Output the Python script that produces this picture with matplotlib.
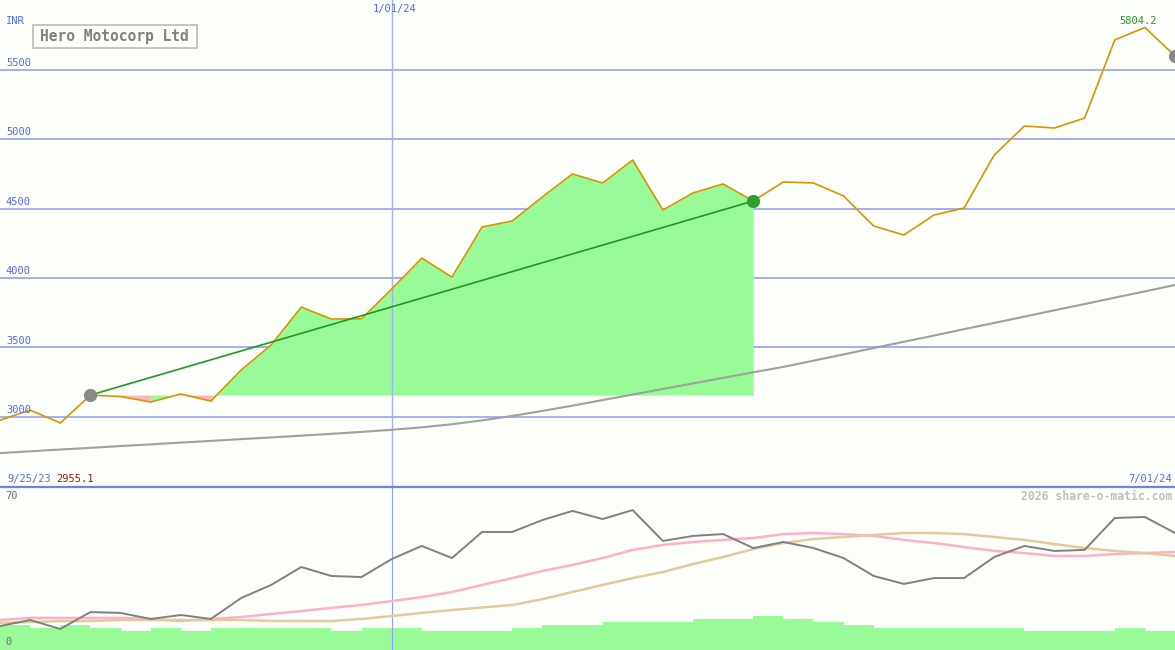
import matplotlib
matplotlib.use('Agg')
import matplotlib.pyplot as plt
import numpy as np
from matplotlib.patches import Rectangle

W, H = 1175, 650
MONO = 'DejaVu Sans Mono'

BG = '#FCFEFA'
GRID = '#A4B0F0'
BLUE = '#5566EE'
ORANGE = '#D99400'
GREEN = '#229922'
FILL_GREEN = '#98FB98'
FILL_PINK = '#FFB6C1'

# weekly closes, 9/25/23 .. 7/01/24
price = [2975, 3048, 2955.1, 3156, 3146, 3106, 3164, 3113, 3336, 3517,
         3790, 3704, 3706, 3920, 4143, 4006, 4367, 4410, 4583, 4749,
         4684, 4849, 4489, 4612, 4677, 4554, 4691, 4684, 4590, 4374,
         4309, 4453, 4504, 4885, 5094, 5080, 5152, 5714, 5804.2, 5599]
# long moving average (gray)
long_ma = [2738, 2751, 2764, 2776, 2789, 2801, 2814, 2826, 2839, 2851,
           2864, 2877, 2891, 2906, 2924, 2946, 2974, 3006, 3042, 3080,
           3120, 3160, 3200, 3240, 3280, 3320, 3359, 3404, 3449, 3495,
           3540, 3585, 3631, 3676, 3721, 3767, 3812, 3858, 3903, 3949]
price_levels = [3000, 3500, 4000, 4500, 5000, 5500]

# lower panel: oscillator and its two averages
osc = [11.0, 13.9, 9.6, 17.7, 17.3, 14.4, 16.3, 14.4, 24.4, 30.7,
       39.3, 35.0, 34.5, 43.1, 49.4, 43.6, 56.1, 56.1, 61.8, 66.2,
       62.3, 66.6, 51.8, 54.2, 55.1, 48.4, 51.3, 48.4, 43.6, 35.0,
       31.2, 34.0, 34.0, 44.1, 49.4, 47.0, 47.5, 62.8, 63.3, 55.6]
osc_fast = [13.9, 14.9, 14.9, 14.9, 14.9, 14.4, 13.4, 14.4, 15.3, 16.8,
            18.2, 19.7, 21.1, 23.0, 24.9, 27.3, 30.7, 34.0, 37.4, 40.3,
            43.6, 47.5, 49.9, 51.3, 52.3, 53.2, 55.1, 55.6, 55.1, 54.2,
            52.3, 50.8, 48.9, 47.0, 46.0, 44.6, 44.6, 45.5, 46.0, 46.5]
osc_slow = [12.5, 12.9, 13.4, 13.4, 13.9, 13.9, 13.9, 13.9, 13.9, 13.4,
            13.4, 13.4, 14.4, 15.8, 17.3, 18.7, 19.9, 21.1, 23.9, 27.3,
            30.7, 34.0, 36.9, 40.7, 44.1, 47.9, 50.8, 52.7, 53.7, 54.7,
            55.6, 55.6, 55.1, 53.7, 52.3, 50.3, 48.4, 47.0, 46.0, 44.6]
# volume (one bar per week interval)
volume = [2.5, 2.2, 2.5, 2.2, 1.9, 2.2, 1.9, 2.2, 2.2, 2.2,
          2.2, 1.9, 2.2, 2.2, 1.9, 1.9, 1.9, 2.2, 2.5, 2.5,
          2.8, 2.8, 2.8, 3.1, 3.1, 3.4, 3.1, 2.8, 2.5, 2.2,
          2.2, 2.2, 2.2, 2.2, 1.9, 1.9, 1.9, 2.2, 1.9]

trend_from, trend_to = 3, 25
jan_idx = 13


def fig_xy(px, py):
    return px / W, 1 - py / H


def draw_price(ax):
    x = np.arange(len(price))
    p = np.array(price)
    for lvl in price_levels:
        ax.axhline(lvl, color=GRID, lw=1.4, zorder=1)
        ax.text(0.005, lvl + 12, str(lvl), transform=ax.get_yaxis_transform(),
                color=BLUE, fontsize=7.5, family=MONO, va='bottom', zorder=6)

    # area vs. the start level; each week coloured by where it closes,
    # runs of the same colour merged so no seams show
    base = p[trend_from]
    start = trend_from
    for k in range(trend_from, trend_to):
        up = p[k + 1] >= base
        last = k + 1 == trend_to
        if last or (p[k + 2] >= base) != up:
            col = FILL_GREEN if up else FILL_PINK
            ax.fill_between(x[start:k + 2], p[start:k + 2], base, color=col,
                            lw=0, zorder=2)
            start = k + 1

    ax.axvline(jan_idx, color=GRID, lw=1.0, zorder=3)
    ax.plot(x, long_ma, color='#A0A0A0', lw=1.5, zorder=3)
    ax.plot(x, p, color=ORANGE, lw=1.2, zorder=4)
    ax.plot([trend_from, trend_to], [p[trend_from], p[trend_to]],
            color=GREEN, lw=1.2, zorder=4)
    ax.plot(trend_from, p[trend_from], 'o', ms=8.5, color='#888888', zorder=5)
    ax.plot(trend_to, p[trend_to], 'o', ms=8.5, color='#2E9E2E', zorder=5)
    ax.plot(x[-1], p[-1], 'o', ms=8.5, color='#888888', zorder=5, clip_on=False)

    imax = int(np.argmax(p))
    ax.annotate(f'{p[imax]:.1f}', (imax, p[imax]), xytext=(-5, 1),
                textcoords='offset points', ha='center', va='bottom',
                color=GREEN, fontsize=7.5, family=MONO)


def draw_lower(ax_vol, ax_osc):
    ax_vol.bar(np.arange(len(volume)), volume, width=1, align='edge',
               color=FILL_GREEN, lw=0)
    x = np.arange(len(osc))
    ax_osc.axvline(jan_idx, color='#8FA0FF', lw=0.8)
    ax_osc.plot(x, osc_fast, color='#FFB0C8', lw=1.8)
    ax_osc.plot(x, osc_slow, color='#E2CA9C', lw=1.8)
    ax_osc.plot(x, osc, color='#808080', lw=1.4)


fig = plt.figure(figsize=(W / 100, H / 100), dpi=100)
fig.patch.set_facecolor(BG)

ax = fig.add_axes([0, 163 / H, 1, 487 / H])
ax.set_xlim(0, len(price) - 1)
ax.set_ylim(2494, 6002)
ax.axis('off')

ax_vol = fig.add_axes([0, 0, 1, 163 / H])
ax_vol.set_xlim(0, len(price) - 1)
ax_vol.set_ylim(0, 16.3)
ax_vol.axis('off')
ax_osc = fig.add_axes([0, 0, 1, 163 / H])
ax_osc.set_xlim(0, len(price) - 1)
ax_osc.set_ylim(-0.48, 77.66)
ax_osc.axis('off')

draw_price(ax)
draw_lower(ax_vol, ax_osc)

# panel separator
fig.add_artist(plt.Line2D([0, 1], [1 - 487 / H] * 2, color='#7080E8', lw=1.6))

# title box
bx, by = fig_xy(33, 47.5)
fig.add_artist(Rectangle((bx, by), 164 / W, 23 / H, transform=fig.transFigure,
                         fill=False, edgecolor='#C4C4C4', lw=1.4))
fig.text(*fig_xy(114, 36), 'Hero Motocorp Ltd', ha='center', va='center',
         color='#808080', fontsize=10.5, family=MONO, weight='bold')

fig.text(*fig_xy(6, 21), 'INR', va='center', color=BLUE, fontsize=7.5, family=MONO)
fig.text(*fig_xy(395, 9), '1/01/24', ha='center', va='center', color=BLUE,
         fontsize=7.5, family=MONO)
fig.text(*fig_xy(7, 479), '9/25/23', va='center', color=BLUE, fontsize=7.5, family=MONO)
fig.text(*fig_xy(56, 479), f'{min(price):.1f}', va='center', color='#A01818',
         fontsize=7.5, family=MONO)
fig.text(*fig_xy(1172, 479), '7/01/24', ha='right', va='center', color=BLUE,
         fontsize=7.5, family=MONO)
fig.text(*fig_xy(1172, 496), '2026 share-o-matic.com', ha='right', va='center',
         color='#C0C0C0', fontsize=8.3, family=MONO, weight='bold')
fig.text(*fig_xy(5, 496), '70', va='center', color='#707070', fontsize=7.5, family=MONO)
fig.text(*fig_xy(5, 642), '0', va='center', color='#707070', fontsize=7.5, family=MONO)

fig.savefig('out.png', dpi=100, facecolor=BG)
plt.close(fig)
